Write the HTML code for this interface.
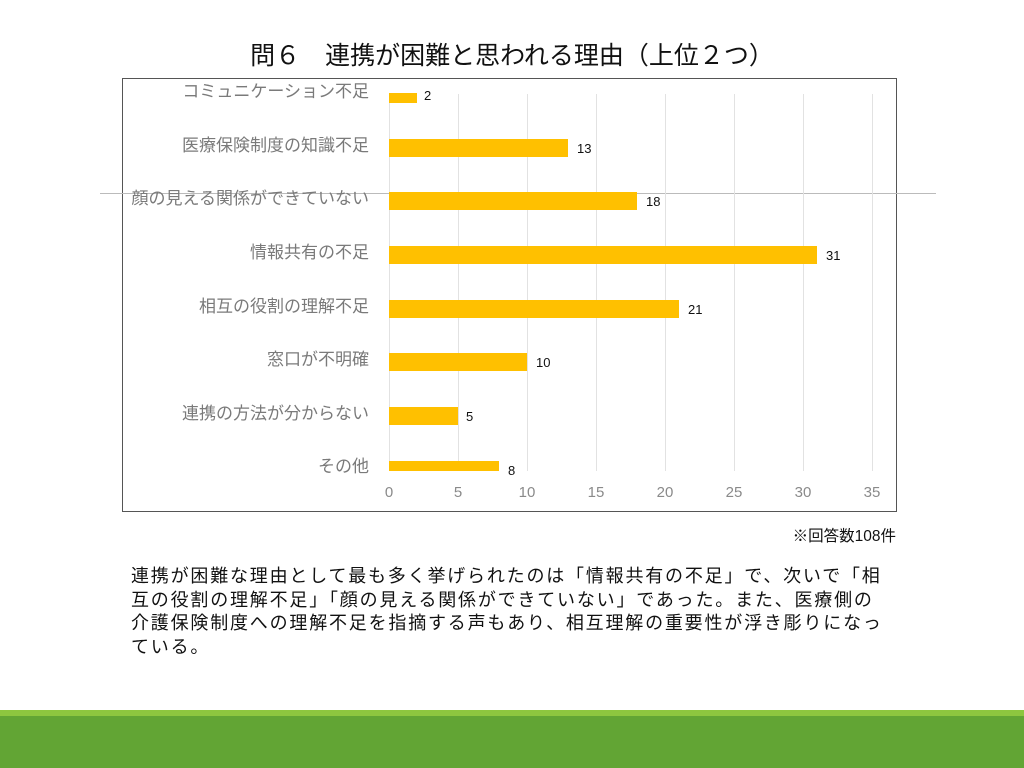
<!DOCTYPE html>
<html><head><meta charset="utf-8"><style>
body{margin:0;width:1024px;height:768px;background:#fff;position:relative;overflow:hidden;font-family:"Liberation Sans","Noto Sans CJK JP",sans-serif}
div{position:absolute}
.lab{right:655px;font-size:17px;color:#7a7a7a;white-space:nowrap;line-height:18px}
.bar{left:389px;background:#ffc000;height:18px}
.val{font-size:13px;color:#111;line-height:14px}
.g{top:94px;height:377px;width:1px;background:#e2e2e2}
.t{top:484px;font-size:15px;color:#8a8a8a;width:30px;margin-left:-15px;text-align:center}
</style></head><body>
<div style="left:0;width:1024px;top:36px;text-align:center;font-size:25px;color:#111">問６　連携が困難と思われる理由（上位２つ）</div>
<div style="left:122px;top:78px;width:773px;height:432px;border:1.5px solid #555"></div>
<div style="left:100px;top:193px;width:836px;height:1px;background:#bbb"></div>
<div class="g" style="left:389px"></div><div class="g" style="left:458px"></div><div class="g" style="left:527px"></div><div class="g" style="left:596px"></div><div class="g" style="left:665px"></div><div class="g" style="left:734px"></div><div class="g" style="left:803px"></div><div class="g" style="left:872px"></div>
<div class="bar" style="top:93px;height:10px;width:28px"></div><div class="val" style="left:424px;top:89px">2</div>
<div class="bar" style="top:139px;width:179px"></div><div class="val" style="left:577px;top:142px">13</div>
<div class="bar" style="top:192px;width:248px"></div><div class="val" style="left:646px;top:195px">18</div>
<div class="bar" style="top:246px;width:428px"></div><div class="val" style="left:826px;top:249px">31</div>
<div class="bar" style="top:300px;width:290px"></div><div class="val" style="left:688px;top:303px">21</div>
<div class="bar" style="top:353px;width:138px"></div><div class="val" style="left:536px;top:356px">10</div>
<div class="bar" style="top:407px;width:69px"></div><div class="val" style="left:466px;top:410px">5</div>
<div class="bar" style="top:461px;height:10px;width:110px"></div><div class="val" style="left:508px;top:464px">8</div>
<div class="lab" style="top:83px">コミュニケーション不足</div>
<div class="lab" style="top:137px">医療保険制度の知識不足</div>
<div class="lab" style="top:190px">顔の見える関係ができていない</div>
<div class="lab" style="top:244px">情報共有の不足</div>
<div class="lab" style="top:298px">相互の役割の理解不足</div>
<div class="lab" style="top:351px">窓口が不明確</div>
<div class="lab" style="top:405px">連携の方法が分からない</div>
<div class="lab" style="top:458px">その他</div>
<div class="t" style="left:389px">0</div><div class="t" style="left:458px">5</div><div class="t" style="left:527px">10</div><div class="t" style="left:596px">15</div><div class="t" style="left:665px">20</div><div class="t" style="left:734px">25</div><div class="t" style="left:803px">30</div><div class="t" style="left:872px">35</div>
<div style="right:128px;top:524px;font-size:15.5px;color:#111">※回答数108件</div>
<div style="left:131px;top:565px;white-space:nowrap;font-size:18px;letter-spacing:1.8px;line-height:23.5px;color:#111">連携が困難な理由として最も多く挙げられたのは「情報共有の不足」で、次いで「相<br>互の役割の理解不足」「顔の見える関係ができていない」であった。また、医療側の<br>介護保険制度への理解不足を指摘する声もあり、相互理解の重要性が浮き彫りになっ<br>ている。</div>
<div style="left:0;top:710px;width:1024px;height:6px;background:#8dc63f"></div>
<div style="left:0;top:716px;width:1024px;height:52px;background:#62a534"></div>
</body></html>
